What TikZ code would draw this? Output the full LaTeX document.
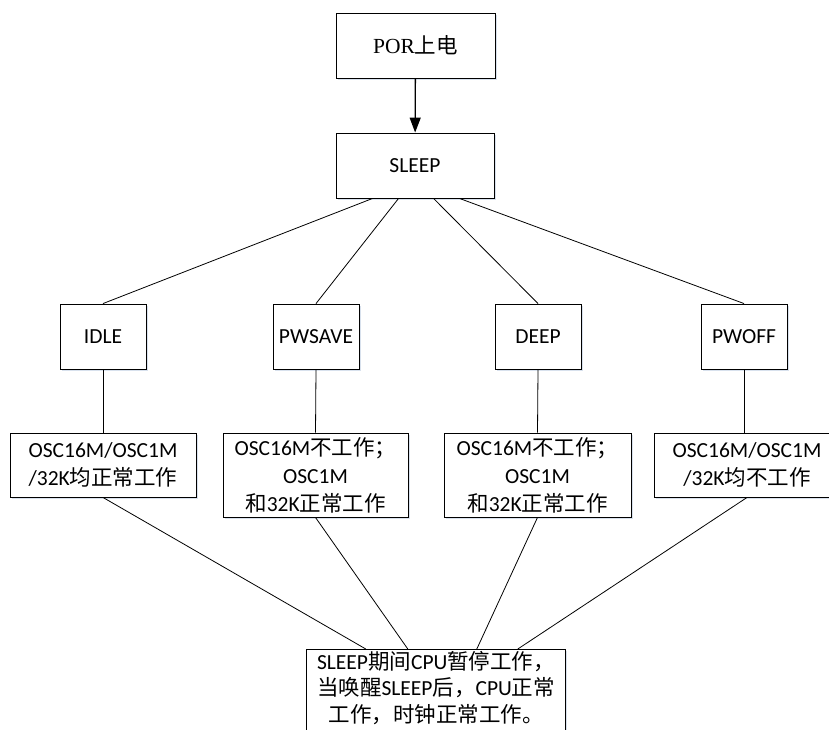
\documentclass[tikz,border=0pt]{standalone}
\usepackage{fontspec}
\setmainfont{Carlito}
\newfontfamily\cjkf{Noto Sans CJK SC}
\newfontfamily\serf{Liberation Serif}
\newcommand{\C}[1]{{\cjkf #1}}
\usetikzlibrary{arrows.meta,calc,shadows,backgrounds}
\definecolor{shadowc}{RGB}{190,205,225}
\begin{document}
\begin{tikzpicture}[x=1pt,y=-1pt,
  boxline/.style={draw, line width=0.9pt, fill=white,
    drop shadow={shadow xshift=1.5pt, shadow yshift=-1.5pt, fill=shadowc, opacity=0.6}},
  box/.style={boxline, inner sep=0pt, align=center,
    font=\fontsize{21.5}{28}\selectfont},
  small/.style={box, minimum width=86pt, minimum height=65pt},
  osc/.style={box, minimum width=186pt},
  link/.style={line width=0.8pt}]
\clip (0,0) rectangle (829,729);
\node[box, minimum width=159pt, minimum height=65pt] (por) at (415.5,45.5) {\serf POR\C{上电}};
\node[box, minimum width=158pt, minimum height=65pt] (sleep) at (415,165.5) {SLEEP};
\node[small] (idle) at (103,336.5) {IDLE};
\node[small] (pwsave) at (316,336.5) {PWSAVE};
\node[small] (deep) at (538,336.5) {DEEP};
\node[small] (pwoff) at (744,336.5) {PWOFF};
\node[osc, minimum height=64pt] (b1) at (103,465) {OSC16M/OSC1M\\/32K\C{均正常工作}};
\node[osc, minimum height=84pt, minimum width=185pt] (b2) at (315.5,475) {OSC16M\C{不工作；}\\OSC1M\\\C{和}32K\C{正常工作}};
\node[osc, minimum height=84pt, minimum width=187pt] (b3) at (537.5,475) {OSC16M\C{不工作；}\\OSC1M\\\C{和}32K\C{正常工作}};
\node[osc, minimum height=64pt] (b4) at (747,465) {OSC16M/OSC1M\\/32K\C{均不工作}};
\node[anchor=north, text width=258pt, inner xsep=0pt, inner ysep=2pt, align=center,
  font=\fontsize{21.5}{26.5}\selectfont] (bot) at (436,649)
  {SLEEP\C{期间}CPU\C{暂停工作，}\\\C{当唤醒}SLEEP\C{后，}CPU\C{正常}\\\C{工作，时钟正常工作。}};
\begin{scope}[on background layer]
  \path[boxline] (bot.north west) rectangle ($(bot.south east)+(0,30)$);
\end{scope}
\draw[-{Triangle[length=15pt,width=11pt]}, line width=1.3pt] (por) -- (sleep);
\draw[link] ($(sleep.south west)+(37,0)$) -- (idle.north);
\draw[link] ($(sleep.south west)+(63,0)$) -- (pwsave.north);
\draw[link] ($(sleep.south west)+(98,0)$) -- (deep.north);
\draw[link] ($(sleep.south west)+(124,0)$) -- (pwoff.north);
\draw[link] (idle.south) -- (b1.north);
\draw[link] (pwsave.south) -- (b2.north);
\draw[link] (deep.south) -- (b3.north);
\draw[link] (pwoff.south) -- (pwoff.south |- b4.north);
\draw[link] (b1.south) -- ($(bot.north west)+(59,0)$);
\draw[link] (b2.south) -- ($(bot.north west)+(101,0)$);
\draw[link] (b3.south) -- ($(bot.north west)+(170,0)$);
\draw[link] (b4.south) -- ($(bot.north west)+(211,0)$);
\end{tikzpicture}
\end{document}
